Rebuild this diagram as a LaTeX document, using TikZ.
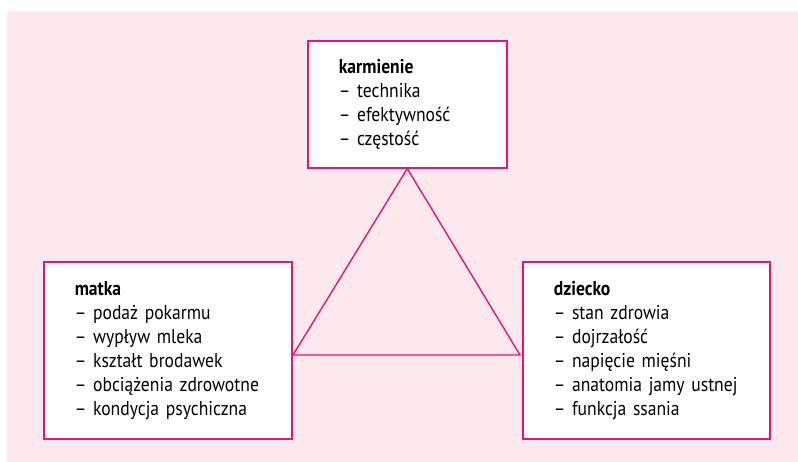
\documentclass[tikz,border=0pt]{standalone}
\usepackage{fontspec}
\setmainfont{PT Sans}[FakeStretch=0.88]
\usetikzlibrary{positioning}
\definecolor{tlo}{RGB}{252,233,238}
\definecolor{linia}{RGB}{230,20,115}
\tikzstyle{box}=[draw=linia, line width=1.6pt, fill=white, anchor=north west, align=left, inner xsep=31pt, font=\fontsize{20}{24}\selectfont]

\begin{document}
\begin{tikzpicture}[x=1pt, y=-1pt]
\useasboundingbox (0,0) rectangle (798,462);
\fill[tlo] (7,11) rectangle (798,462); % background

\node[box, text width=137pt, minimum height=127pt] (karmienie) at (307,40)
{\textbf{karmienie}\\ – technika\\ – efektywność\\ – częstość};
\node[box, text width=186pt, minimum height=177pt] (matka) at (43,261)
{\textbf{matka}\\ – podaż pokarmu\\ – wypływ mleka\\ – kształt brodawek\\ – obciążenia zdrowotne\\ – kondycja psychiczna};
\node[box, text width=185pt, minimum height=177pt] (dziecko) at (522,261)
{\textbf{dziecko}\\ – stan zdrowia\\ – dojrzałość\\ – napięcie mięśni\\ – anatomia jamy ustnej\\ – funkcja ssania};

% triangle between the boxes
\coordinate (lewy) at (293,355);
\coordinate (prawy) at (520,355);
\draw[linia, line width=1.4pt] (karmienie.south) -- (lewy) -- (prawy) -- cycle;
\end{tikzpicture}
\end{document}
